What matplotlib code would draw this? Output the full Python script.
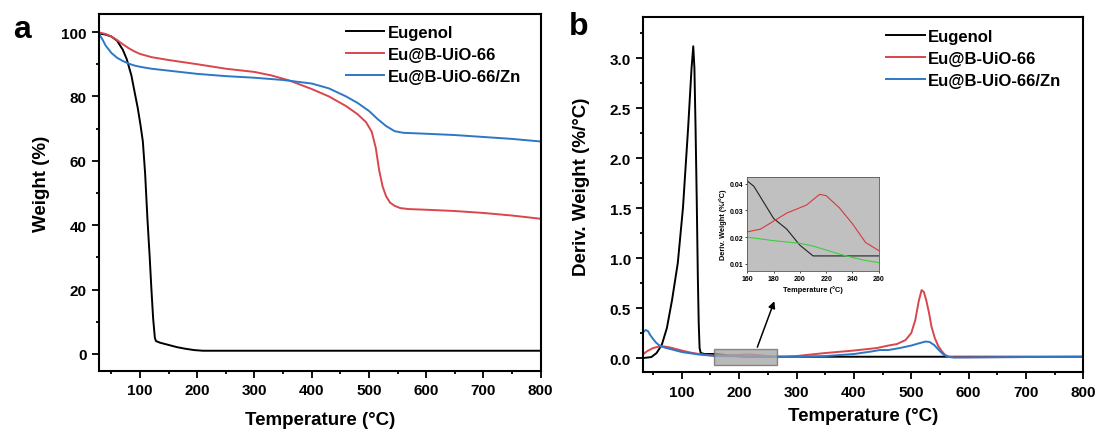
import matplotlib
matplotlib.use("Agg")
import matplotlib.pyplot as plt
from matplotlib.ticker import MultipleLocator
from matplotlib.patches import Rectangle

plt.rcParams['font.family'] = ['Liberation Sans', 'DejaVu Sans']
plt.rcParams['font.weight'] = 'bold'
plt.rcParams['axes.labelweight'] = 'bold'

# ---------------- data: panel a (TGA) ----------------
series_names = ["Eugenol", "Eu@B-UiO-66", "Eu@B-UiO-66/Zn"]

tga_T_eug = [30, 40, 50, 60, 70, 77, 85, 91, 96, 101, 105, 109, 113, 117, 120, 123, 126, 128,
             135, 150, 165, 180, 195, 210, 300, 400, 500, 600, 700, 800]
tga_W_eug = [99.5, 99.2, 98.6, 97.3, 94.5, 91.5, 86.5, 81, 76.5, 71, 66, 56, 42, 30, 20, 11, 5, 4,
             3.5, 2.8, 2.1, 1.6, 1.2, 1.0, 1.0, 1.0, 1.0, 1.0, 1.0, 1.0]

tga_T_red = [30, 40, 50, 60, 70, 80, 90, 100, 120, 150, 200, 250, 300, 330, 360, 400, 430, 460,
             480, 495, 505, 512, 518, 524, 530, 537, 545, 555, 570, 600, 650, 700, 750, 800]
tga_W_red = [99.8, 99.4, 98.6, 97.5, 96.2, 95.0, 94.0, 93.2, 92.2, 91.3, 90.0, 88.6, 87.6, 86.5,
             85.0, 82.3, 80.0, 77.0, 74.5, 72.0, 69.0, 64.0, 57.0, 52.0, 49.0, 47.0, 46.0, 45.3,
             45.0, 44.8, 44.4, 43.8, 43.0, 42.0]

tga_T_blue = [30, 35, 40, 50, 60, 70, 80, 90, 100, 120, 150, 200, 250, 300, 350, 400, 430, 460,
              480, 500, 515, 530, 545, 560, 600, 650, 700, 750, 800]
tga_W_blue = [99.0, 97.5, 95.8, 93.5, 92.0, 91.0, 90.2, 89.6, 89.2, 88.6, 88.0, 87.0, 86.3, 85.8,
              85.1, 84.0, 82.5, 80.0, 78.0, 75.5, 73.0, 70.8, 69.2, 68.7, 68.4, 68.0, 67.4, 66.8, 66.0]

# ---------------- data: panel b (DTG) ----------------
dtg_T_eug = [33, 40, 47, 56, 65, 74, 83, 93, 102, 111, 117, 120, 122, 124, 126, 128, 129.5, 131,
             133, 140, 160, 180, 195, 210, 300, 400, 500, 600, 700, 800]
dtg_D_eug = [0.0, 0.005, 0.01, 0.05, 0.13, 0.3, 0.58, 0.95, 1.5, 2.3, 2.9, 3.12, 2.9, 2.3, 1.6,
             0.8, 0.35, 0.1, 0.05, 0.04, 0.041, 0.027, 0.02, 0.013, 0.013, 0.013, 0.013, 0.013,
             0.013, 0.013]

dtg_T_red = [33, 40, 50, 60, 70, 80, 90, 100, 115, 130, 145, 160, 180, 200, 215, 230, 245, 260,
             280, 300, 350, 400, 440, 460, 475, 490, 500, 507, 513, 518, 522, 526, 531, 535, 541,
             547, 553, 559, 566, 575, 600, 700, 800]
dtg_D_red = [0.04, 0.07, 0.1, 0.115, 0.115, 0.105, 0.09, 0.075, 0.055, 0.04, 0.03, 0.022, 0.026,
             0.032, 0.036, 0.031, 0.023, 0.015, 0.015, 0.02, 0.05, 0.075, 0.1, 0.125, 0.14, 0.18,
             0.25, 0.38, 0.57, 0.68, 0.66, 0.58, 0.45, 0.32, 0.2, 0.12, 0.07, 0.03, 0.012, 0.008,
             0.008, 0.01, 0.012]

dtg_T_blue = [33, 37, 41, 45, 50, 55, 60, 70, 80, 100, 130, 160, 200, 250, 300, 350, 400, 430,
              445, 460, 480, 500, 515, 525, 532, 540, 548, 556, 565, 575, 600, 700, 800]
dtg_D_blue = [0.26, 0.28, 0.27, 0.23, 0.19, 0.155, 0.13, 0.105, 0.09, 0.06, 0.035, 0.02, 0.017,
              0.01, 0.01, 0.02, 0.04, 0.065, 0.08, 0.08, 0.1, 0.125, 0.15, 0.165, 0.16, 0.13,
              0.08, 0.035, 0.01, 0.005, 0.006, 0.01, 0.012]

# ---------------- data: inset ----------------
ins_T_eug = [160, 165, 170, 175, 180, 185, 190, 195, 200, 205, 210, 260]
ins_D_eug = [0.041, 0.039, 0.035, 0.031, 0.027, 0.025, 0.023, 0.020, 0.017, 0.015, 0.013, 0.013]
ins_T_red = [160, 170, 180, 190, 200, 205, 210, 215, 220, 230, 240, 250, 260]
ins_D_red = [0.022, 0.023, 0.026, 0.029, 0.031, 0.032, 0.034, 0.036, 0.0355, 0.031, 0.025, 0.018, 0.015]
ins_T_grn = [160, 180, 200, 210, 220, 230, 240, 250, 260]
ins_D_grn = [0.020, 0.0187, 0.0177, 0.0167, 0.0152, 0.0137, 0.0124, 0.0113, 0.0105]

# ---------------- styling ----------------
C_BLACK = "#000000"
C_RED = "#d9464b"
C_BLUE = "#2c78c6"

fig = plt.figure(figsize=(10.99, 4.35), dpi=100)

def style_axes(ax):
    for s in ax.spines.values():
        s.set_linewidth(1.5)
    ax.tick_params(which='major', direction='out', length=5, width=1.3, labelsize=11, pad=4)
    ax.tick_params(which='minor', direction='out', length=2.5, width=1.3)
    ax.tick_params(top=False, right=False)
    for lab in ax.get_xticklabels() + ax.get_yticklabels():
        lab.set_fontweight('bold')

leg_kw = dict(loc='upper left', frameon=False, handlelength=2.3, handletextpad=0.2,
              labelspacing=0.42, borderpad=0, borderaxespad=0,
              prop={'weight': 'bold', 'size': 12})

# Panel a
axa = fig.add_axes([0.0904, 0.1455, 0.4015, 0.8193])
axa.plot(tga_T_eug, tga_W_eug, color=C_BLACK, lw=1.4, label=series_names[0])
axa.plot(tga_T_red, tga_W_red, color=C_RED, lw=1.4, label=series_names[1])
axa.plot(tga_T_blue, tga_W_blue, color=C_BLUE, lw=1.4, label=series_names[2])
axa.set_xlim(29, 800)
axa.set_ylim(-5.2, 105.5)
axa.set_xticks([100, 200, 300, 400, 500, 600, 700, 800])
axa.xaxis.set_minor_locator(MultipleLocator(50))
axa.yaxis.set_major_locator(MultipleLocator(20))
axa.yaxis.set_minor_locator(MultipleLocator(10))
style_axes(axa)
axa.set_xlabel("Temperature (°C)", fontsize=13.5, fontweight='bold')
axa.set_ylabel("Weight (%)", fontsize=13.5, fontweight='bold')
axa.xaxis.set_label_coords(0.5, -0.113)
axa.yaxis.set_label_coords(-0.111, 0.528)
axa.legend(bbox_to_anchor=(0.559, 0.970), **leg_kw)
fig.text(0.020, 0.931, "a", fontsize=23, fontweight='bold', ha='center', va='center')

# Panel b
axb = fig.add_axes([0.5854, 0.1418, 0.4004, 0.8161])
axb.plot(dtg_T_eug, dtg_D_eug, color=C_BLACK, lw=1.4, label=series_names[0])
axb.plot(dtg_T_red, dtg_D_red, color=C_RED, lw=1.4, label=series_names[1])
axb.plot(dtg_T_blue, dtg_D_blue, color=C_BLUE, lw=1.4, label=series_names[2])
axb.set_xlim(33, 800)
axb.set_ylim(-0.143, 3.41)
axb.set_xticks([100, 200, 300, 400, 500, 600, 700, 800])
axb.xaxis.set_minor_locator(MultipleLocator(50))
axb.yaxis.set_major_locator(MultipleLocator(0.5))
axb.yaxis.set_minor_locator(MultipleLocator(0.25))
axb.yaxis.set_major_formatter(matplotlib.ticker.FormatStrFormatter('%.1f'))
style_axes(axb)
axb.set_xlabel("Temperature (°C)", fontsize=13.5, fontweight='bold')
axb.set_ylabel("Deriv. Weight (%/°C)", fontsize=13.5, fontweight='bold')
axb.xaxis.set_label_coords(0.5, -0.098)
axb.yaxis.set_label_coords(-0.121, 0.525)
axb.legend(bbox_to_anchor=(0.552, 0.968), **leg_kw)
axb.add_patch(Rectangle((157, -0.067), 109, 0.16, facecolor="#a8a8a8", edgecolor="#6f6f6f",
                        lw=1.0, alpha=0.8, zorder=5))
axb.annotate("", xy=(263, 0.595), xytext=(230, 0.083),
             arrowprops=dict(arrowstyle="-|>", color="black", lw=1.1, mutation_scale=10), zorder=6)
fig.text(0.5265, 0.938, "b", fontsize=23, fontweight='bold', ha='center', va='center')

# Inset
axi = fig.add_axes([0.680, 0.3743, 0.1196, 0.2166])
axi.set_facecolor("#c0c0c0")
axi.plot(ins_T_eug, ins_D_eug, color="#222222", lw=0.8)
axi.plot(ins_T_red, ins_D_red, color="#d8393c", lw=0.8)
axi.plot(ins_T_grn, ins_D_grn, color="#3ccf3c", lw=0.8)
axi.set_xlim(160, 260)
axi.set_ylim(0.0073, 0.0425)
axi.set_xticks([160, 180, 200, 220, 240, 260])
axi.set_yticks([0.01, 0.02, 0.03, 0.04])
for s in axi.spines.values():
    s.set_linewidth(0.6)
    s.set_edgecolor("#555555")
axi.tick_params(direction='out', length=1.5, width=0.5, labelsize=5, pad=1.5)
for lab in axi.get_xticklabels() + axi.get_yticklabels():
    lab.set_fontweight('bold')
axi.set_xlabel("Temperature (°C)", fontsize=5.3, fontweight='bold', labelpad=2)
axi.set_ylabel("Deriv. Weight (%/°C)", fontsize=5.3, fontweight='bold', labelpad=2)

fig.savefig("out.png", dpi=100)
